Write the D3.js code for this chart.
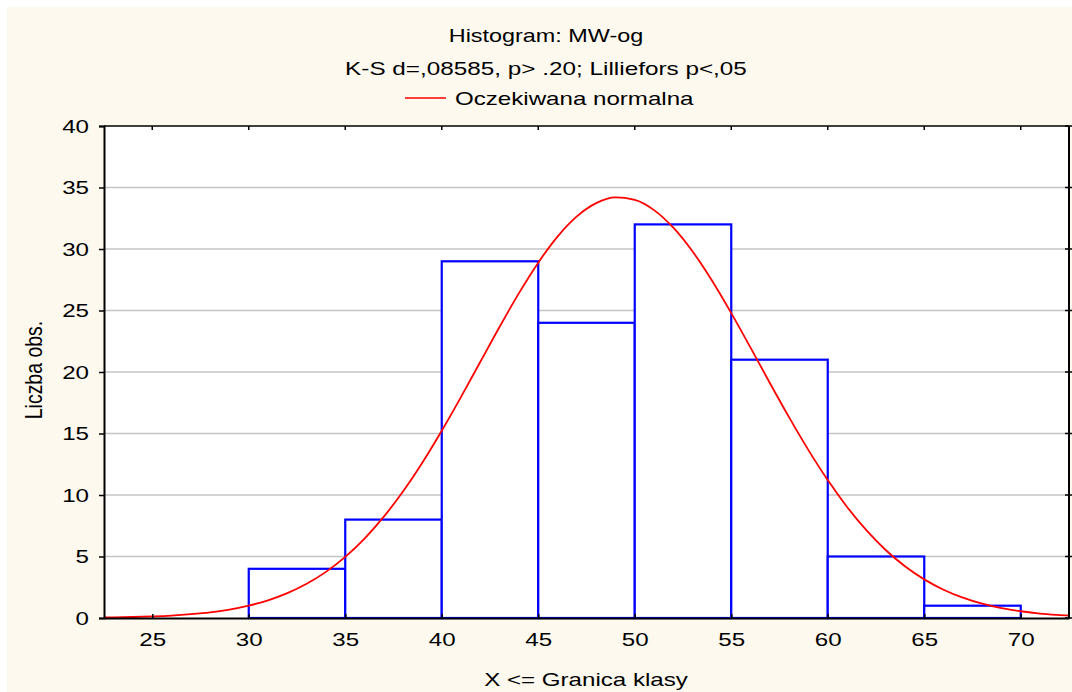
<!DOCTYPE html>
<html>
<head>
<meta charset="utf-8">
<script src="https://cdn.jsdelivr.net/npm/d3@7"></script>
<style>
  html, body { margin: 0; padding: 0; background: #ffffff; }
  svg { display: block; }
  text { font-family: "Liberation Sans", Arial, sans-serif; fill: #000; }
</style>
</head>
<body>
<svg id="chart" width="1072" height="692"></svg>
<script>
// Class lower limits and observed counts per class (class = (limit, limit+5])
const binStarts = [20, 25, 30, 35, 40, 45, 50, 55, 60, 65];
const binCounts = [0, 0, 4, 8, 29, 24, 32, 21, 5, 1];

// Expected normal curve (counts per class width), sampled along X
const curveX = [22.5, 23, 24, 25, 26, 27, 28, 29, 30, 31, 32, 33, 34, 35, 36, 37, 38, 39, 40,
                41, 42, 43, 44, 45, 46, 47, 48, 49, 50, 51, 52, 53, 54, 55, 56, 57, 58, 59, 60,
                61, 62, 63, 64, 65, 66, 67, 68, 69, 70, 71, 72, 72.5];
const curveY = [0.04, 0.05, 0.08, 0.13, 0.20, 0.31, 0.46, 0.69, 1.01, 1.44, 2.02, 2.78, 3.75, 4.97,
                6.46, 8.24, 10.30, 12.64, 15.22, 17.98, 20.83, 23.68, 26.41, 28.89, 31.01, 32.65,
                33.73, 34.19, 33.99, 33.16, 31.73, 29.79, 27.44, 24.79, 21.98, 19.11, 16.31, 13.65,
                11.21, 9.03, 7.14, 5.53, 4.21, 3.14, 2.30, 1.65, 1.16, 0.80, 0.55, 0.36, 0.24, 0.19];

const xTicks = [25, 30, 35, 40, 45, 50, 55, 60, 65, 70];
const yTicks = [0, 5, 10, 15, 20, 25, 30, 35, 40];

const titleText = "Histogram: MW-og";
const subtitleText = "K-S d=,08585, p> .20; Lilliefors p<,05";
const legendText = "Oczekiwana normalna";
const xTitle = "X <= Granica klasy";
const yTitle = "Liczba obs.";

const svg = d3.select("#chart");
const W = 1072, H = 692;
const plot = { left: 104, right: 1069, top: 126, bottom: 618 };
const SX = 1.38;       // horizontal stretch of the lettering
const FS = 17.5;

const x = d3.scaleLinear().domain([22.5, 72.5]).range([plot.left, plot.right]);
const y = d3.scaleLinear().domain([0, 40]).range([plot.bottom, plot.top]);

// Backgrounds
svg.append("rect").attr("width", W).attr("height", H).attr("fill", "#ffffff");
svg.append("rect").attr("x", 7).attr("y", 7).attr("width", W - 7).attr("height", H - 7).attr("fill", "#fdf9ef");
svg.append("rect")
  .attr("x", plot.left).attr("y", plot.top)
  .attr("width", plot.right - plot.left).attr("height", plot.bottom - plot.top)
  .attr("fill", "#ffffff");

function label(x0, y0, str, size, sx, anchor) {
  return svg.append("text")
    .attr("transform", `translate(${x0},${y0}) scale(${sx},1)`)
    .attr("text-anchor", anchor || "middle")
    .style("font-size", size + "px")
    .text(str);
}

// Titles and legend
label(546, 42, titleText, 18, 1.30);
label(546, 75, subtitleText, 18, 1.35);
svg.append("line").attr("x1", 405).attr("x2", 446).attr("y1", 98).attr("y2", 98)
  .attr("stroke", "#ff0000").attr("stroke-width", 1.6);
label(455, 105, legendText, 18, 1.34, "start");

// Horizontal grid
svg.append("g").selectAll("line")
  .data(yTicks.filter(v => v > 0 && v < 40))
  .join("line")
  .attr("x1", plot.left).attr("x2", plot.right)
  .attr("y1", d => y(d)).attr("y2", d => y(d))
  .attr("stroke", "#c4c4c4").attr("stroke-width", 1.6);

// Histogram bars
const binW = 5;
svg.append("g").selectAll("rect")
  .data(binStarts.map((s, i) => ({ s, c: binCounts[i] })).filter(d => d.c > 0))
  .join("rect")
  .attr("x", d => x(d.s)).attr("width", d => x(d.s + binW) - x(d.s))
  .attr("y", d => y(d.c)).attr("height", d => y(0) - y(d.c))
  .attr("fill", "#ffffff").attr("stroke", "#0000ff").attr("stroke-width", 2.2);

// Expected normal curve
svg.append("clipPath").attr("id", "plotclip").append("rect")
  .attr("x", plot.left).attr("y", plot.top - 2)
  .attr("width", plot.right - plot.left).attr("height", plot.bottom - plot.top + 2);
const line = d3.line().x((d, i) => x(curveX[i])).y(d => y(d)).curve(d3.curveMonotoneX);
svg.append("path")
  .datum(curveY)
  .attr("clip-path", "url(#plotclip)")
  .attr("d", line)
  .attr("fill", "none").attr("stroke", "#ff0000").attr("stroke-width", 1.8);

// Frame
const frame = svg.append("g").attr("stroke", "#000").attr("stroke-width", 2);
frame.append("line").attr("x1", plot.left).attr("x2", plot.right).attr("y1", plot.top).attr("y2", plot.top).attr("stroke-width", 1.5);
frame.append("line").attr("x1", plot.right).attr("x2", plot.right).attr("y1", plot.top).attr("y2", plot.bottom);

// Left axis
const yAxis = svg.append("g").attr("transform", `translate(${plot.left},0)`)
  .call(d3.axisLeft(y).tickValues(yTicks).tickSize(5).tickPadding(0).tickFormat(d3.format("d")));
yAxis.select(".domain").attr("stroke-width", 2);
yAxis.selectAll(".tick line").attr("stroke-width", 1.5);
yAxis.selectAll(".tick text")
  .attr("x", 0).attr("dy", null).attr("y", 0)
  .attr("transform", `translate(-15,6) scale(${SX},1)`)
  .attr("text-anchor", "end")
  .style("font-size", FS + "px").style("font-family", "Liberation Sans, Arial, sans-serif");

// Bottom axis
const xAxis = svg.append("g").attr("transform", `translate(0,${plot.bottom})`)
  .call(d3.axisBottom(x).tickValues(xTicks).tickSize(-4).tickPadding(0).tickSizeOuter(0));
xAxis.select(".domain").attr("stroke-width", 2);
xAxis.selectAll(".tick line").attr("stroke-width", 1.5);
xAxis.selectAll(".tick text")
  .attr("y", 0).attr("dy", null)
  .attr("transform", `translate(0,28) scale(${SX},1)`)
  .style("font-size", FS + "px").style("font-family", "Liberation Sans, Arial, sans-serif");

// Mirror ticks on the top and right edges
svg.append("g").selectAll("line").data(xTicks).join("line")
  .attr("x1", d => x(d)).attr("x2", d => x(d))
  .attr("y1", plot.top).attr("y2", plot.top + 4)
  .attr("stroke", "#000").attr("stroke-width", 1.5);
svg.append("g").selectAll("line").data(yTicks).join("line")
  .attr("x1", plot.right - 4).attr("x2", plot.right + 3)
  .attr("y1", d => y(d)).attr("y2", d => y(d))
  .attr("stroke", "#000").attr("stroke-width", 1.5);

// Axis titles
label(586, 686, xTitle, 18, 1.34);
svg.append("text")
  .attr("transform", `translate(42,370) rotate(-90) scale(1,1.2)`)
  .attr("text-anchor", "middle")
  .style("font-size", "19.5px")
  .text(yTitle);
</script>
</body>
</html>
